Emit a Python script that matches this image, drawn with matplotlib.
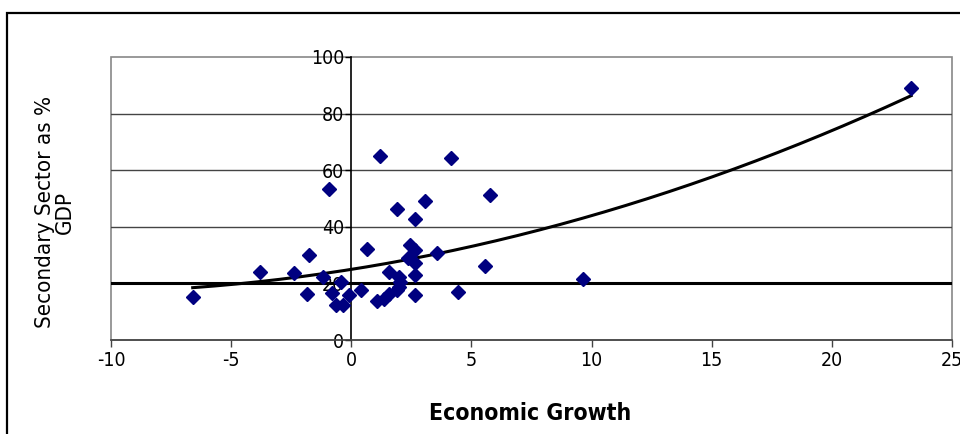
import numpy as np
import matplotlib
matplotlib.use("Agg")
import matplotlib.pyplot as plt
from matplotlib.patches import Rectangle

plt.rcParams["font.family"] = ["DejaVu Sans"]
plt.rcParams["font.stretch"] = "condensed"

# economic growth (%) vs secondary sector share of GDP (%)
growth = [-6.6, -3.8, -2.4, -1.75, -1.83, -0.94, -1.18, -0.80, -0.42, -0.09,
          -0.65, -0.34, 0.40, 0.67, 1.21, 1.05, 1.35, 1.58, 1.58, 1.90,
          1.97, 2.04, 1.97, 2.45, 2.66, 2.36, 2.66, 2.64, 2.66, 3.57,
          1.90, 2.66, 3.05, 4.16, 5.76, 4.45, 5.55, 9.64, 23.3]
secondary = [15.1, 24.1, 23.8, 30.2, 16.4, 53.2, 22.4, 16.5, 20.4, 15.8,
             12.4, 12.4, 17.7, 32.0, 65.1, 13.8, 14.6, 24.1, 16.2, 17.7,
             18.8, 20.6, 22.4, 33.4, 31.8, 28.9, 27.1, 23.0, 15.8, 30.8,
             46.3, 42.8, 49.2, 64.2, 51.2, 17.0, 26.1, 21.4, 88.9]

x_ticks = [-10, -5, 0, 5, 10, 15, 20, 25]
y_ticks = [0, 20, 40, 60, 80, 100]

x = np.array(growth)
y = np.array(secondary)

fig = plt.figure(figsize=(9.6, 4.34), dpi=100)
ax = fig.add_axes([111 / 960, 1 - 340 / 434, (952 - 111) / 960, (340 - 57) / 434])

# 2nd order polynomial trendline
coef = np.polyfit(x, y, 2)
xt = np.linspace(x.min(), x.max(), 200)
yt = np.polyval(coef, xt)

for g in [40, 60, 80]:
    ax.axhline(g, color="#444444", lw=1.0, zorder=1)
ax.axhline(20, color="black", lw=2.2, zorder=2)

ax.plot(xt, yt, color="black", lw=2.2, zorder=3)
ax.plot(x, y, linestyle="none", marker="D", ms=7, color="#000080", zorder=4)

ax.set_xlim(-10, 25)
ax.set_ylim(0, 100)

for s in ["top", "right"]:
    ax.spines[s].set_visible(False)
ax.spines["left"].set_position(("data", 0))
ax.spines["left"].set_color("black")
ax.spines["left"].set_linewidth(1.2)
ax.spines["bottom"].set_color("#444444")
ax.spines["bottom"].set_linewidth(1.2)

ax.set_xticks(x_ticks)
ax.set_yticks(y_ticks)
ax.set_xticklabels([str(t) for t in x_ticks])
ax.set_yticklabels([str(t) for t in y_ticks])
ax.tick_params(axis="y", direction="out", length=4, pad=1, width=1, labelsize=14)
ax.tick_params(axis="x", direction="out", length=5, pad=3, width=1,
               color="#444444", labelsize=14)
ax.add_patch(Rectangle((0, 0), 1, 1, transform=ax.transAxes, fill=False,
                       edgecolor="#888888", lw=1.2, clip_on=False, zorder=0))

fig.text(530 / 960, 1 - 413 / 434, "Economic Growth", fontsize=16.5,
         fontweight="bold", ha="center", va="center")
fig.text(55 / 960, 1 - 212 / 434, "Secondary Sector as %\nGDP", fontsize=16,
         rotation=90, ha="center", va="center", linespacing=1.0)

# outer chart border
fig.add_artist(Rectangle((7 / 960, -0.1), 1.2, 1 - 13 / 434 + 0.1,
                         transform=fig.transFigure, fill=False,
                         edgecolor="black", lw=1.6))

fig.savefig("out.png", dpi=100)
